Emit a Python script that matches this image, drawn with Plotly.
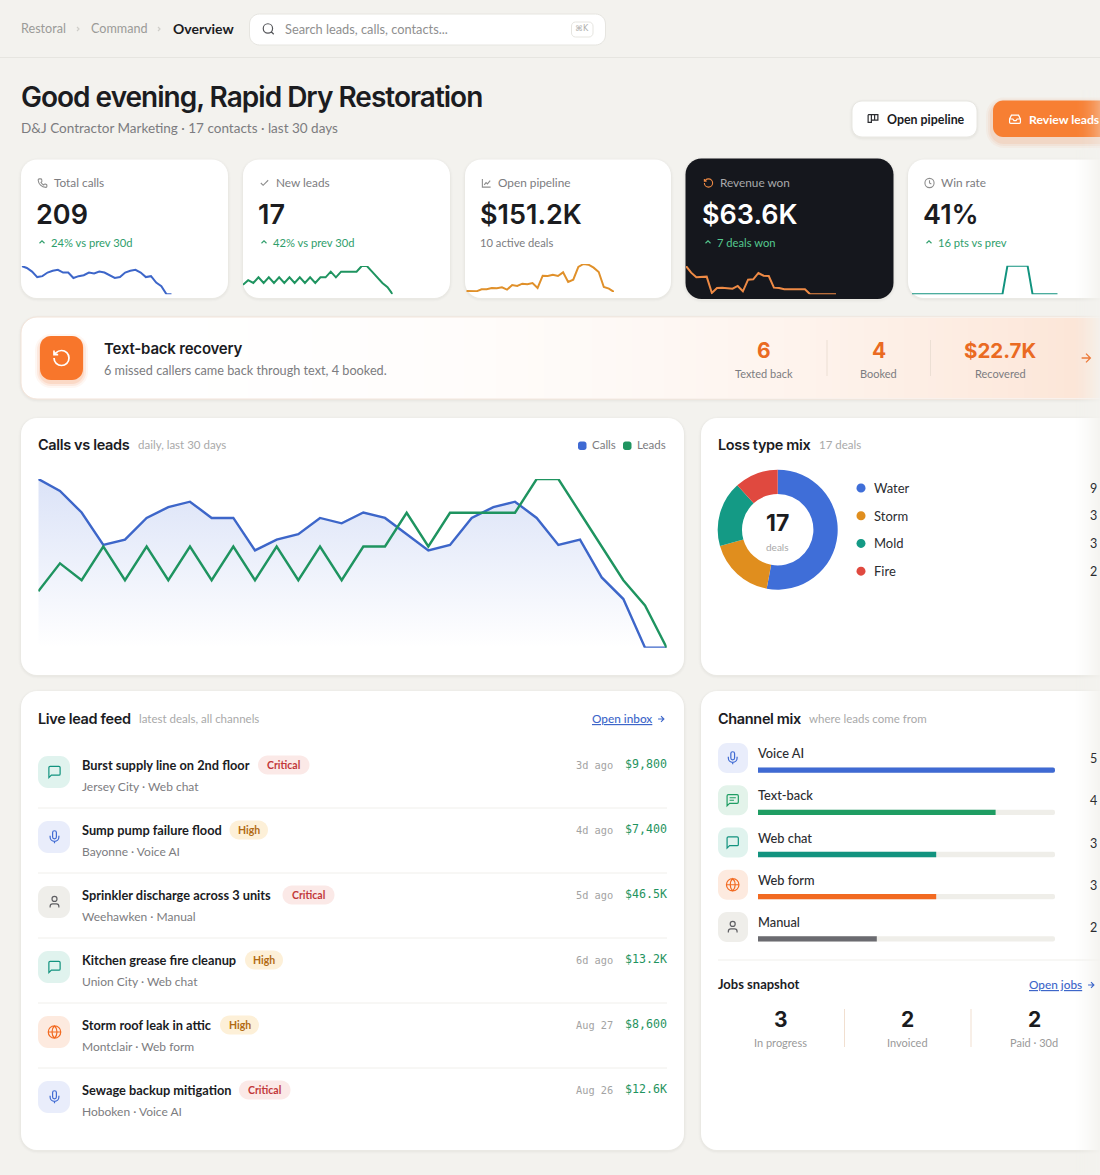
import re
import json
import plotly.graph_objects as go

W, H = 1100, 1175
BG = "#f3f2ee"
SANS = "Lato"
HEAD = "Inter"
MONO = "DejaVu Sans Mono"

# daily series
calls = [31.2, 29, 25, 19, 20, 24, 26, 27, 24, 24, 18, 20, 21, 24, 23, 25, 24, 21, 18, 19, 24, 26, 27, 24, 19, 20, 13, 9, 0, 0]
leads = [1.67, 2.5, 2, 3, 2, 3, 2, 3, 2, 3, 2, 3, 2, 3, 2, 3, 3, 4, 3, 4, 4, 4, 4, 5, 5, 4, 3, 2, 1.25, 0]

# sparklines on the kpi cards
pipeline_spark = [3, 2, 2, 8, 8, 12, 11, 14, 7, 21, 18, 25, 23, 27, 12, 49, 48, 52, 48, 59, 30, 37, 75, 84, 82, 73, 60, 15, 10, 0]
revenue_spark = [85, 65, 51, 51, 53, 4, 19, 20, 19, 17, 25, 9, 44, 45, 64, 56, 55, 20, 19, 15, 15, 15, 15, 15, 0, 0, 0, 0, 0, 0]
win_spark = [0, 0, 0, 0, 0, 0, 0, 0, 0, 0, 0, 0, 0, 0, 0, 0, 0, 0, 0, 1, 1, 1, 1, 1, 0, 0, 0, 0, 0, 0]
days = list(range(30))

loss_types = ["Water", "Storm", "Mold", "Fire"]
loss_counts = [9, 3, 3, 2]
loss_colors = ["#3f6ed8", "#e08e1e", "#149a85", "#e0493f"]

channel_names = ["Voice AI", "Text-back", "Web chat", "Web form", "Manual"]
channel_counts = [5, 4, 3, 3, 2]
channel_colors = ["#3f6ad3", "#1f9d63", "#12937f", "#f26a21", "#6b6b70"]
channel_tints = ["#e9edfb", "#e3f3ea", "#e0f3ee", "#fdeadf", "#efeeea"]
channel_icons = ["mic", "lines", "chat", "globe", "user"]

feed_titles = ["Burst supply line on 2nd floor", "Sump pump failure flood", "Sprinkler discharge across 3 units",
               "Kitchen grease fire cleanup", "Storm roof leak in attic", "Sewage backup mitigation"]
feed_subs = ["Jersey City · Web chat", "Bayonne · Voice AI", "Weehawken · Manual",
             "Union City · Web chat", "Montclair · Web form", "Hoboken · Voice AI"]
feed_tags = ["Critical", "High", "Critical", "High", "High", "Critical"]
feed_when = ["3d ago", "4d ago", "5d ago", "6d ago", "Aug 27", "Aug 26"]
feed_value = ["$9,800", "$7,400", "$46.5K", "$13.2K", "$8,600", "$12.6K"]
feed_icons = ["chat", "mic", "user", "chat", "globe", "mic"]

jobs_labels = ["In progress", "Invoiced", "Paid · 30d"]
jobs_counts = [3, 2, 2]

shapes, notes, traces = [], [], []
layout_axes = {}
# tighter tracking for the grotesk headings, plotly has no option for it
tracking = {"Good evening, Rapid Dry Restoration": -1.0, "Calls vs leads": -0.35, "Loss type mix": -0.35,
            "Live lead feed": -0.35, "Channel mix": -0.35, "Text-back recovery": -0.2}


def circ(cx, cy, r):
    k = r * 0.5523
    return (f"M{cx + r} {cy} C{cx + r} {cy + k} {cx + k} {cy + r} {cx} {cy + r} "
            f"C{cx - k} {cy + r} {cx - r} {cy + k} {cx - r} {cy} "
            f"C{cx - r} {cy - k} {cx - k} {cy - r} {cx} {cy - r} "
            f"C{cx + k} {cy - r} {cx + r} {cy - k} {cx + r} {cy} Z ")


ICONS = {
    "phone": "M5 3 L8.5 3 C9.5 3 10 3.7 10.2 4.6 L10.8 7.5 C11 8.3 10.7 9 10 9.5 L8.6 10.6 C10 13.5 12 15.5 14.5 16.5 L15.7 15 C16.2 14.4 17 14.1 17.7 14.3 L20 15 C20.8 15.2 21.5 16 21.5 17 L21.5 19.5 C21.5 20.7 20.5 21.5 19.5 21.5 C10 21 3 14 2.5 5.5 C2.5 4 3.5 3 5 3 Z",
    "check": "M4 12 L9 17 L20 6",
    "linechart": "M3 3 L3 21 L21 21 M7 16 L11 11 L14 14 L20 7",
    "rotate": "M3 12 C3 17 7 21 12 21 C17 21 21 17 21 12 C21 7 17 3 12 3 C9.5 3 7 4 5.26 5.74 L3 8 M3 3 L3 8 L8 8",
    "clock": circ(12, 12, 10) + "M12 6 L12 12 L16 14",
    "search": circ(11, 11, 8) + "M21 21 L16.65 16.65",
    "kanban": "M3 5 L21 5 L21 15 L15 15 L15 5 M9 5 L9 19 L3 19 L3 5 M9 15 L15 15",
    "inbox": "M22 12 L16 12 L14 15 L10 15 L8 12 L2 12 M5.5 5 L18.5 5 L22 12 L22 18 C22 19 21 20 20 20 L4 20 C3 20 2 19 2 18 L2 12 Z",
    "mic": "M12 2 C10.3 2 9 3.3 9 5 L9 12 C9 13.7 10.3 15 12 15 C13.7 15 15 13.7 15 12 L15 5 C15 3.3 13.7 2 12 2 Z M19 10 L19 12 C19 15.9 15.9 19 12 19 C8.1 19 5 15.9 5 12 L5 10 M12 19 L12 22",
    "chat": "M21 15 C21 16.1 20.1 17 19 17 L7 17 L3 21 L3 5 C3 3.9 3.9 3 5 3 L19 3 C20.1 3 21 3.9 21 5 Z",
    "lines": "M21 15 C21 16.1 20.1 17 19 17 L7 17 L3 21 L3 5 C3 3.9 3.9 3 5 3 L19 3 C20.1 3 21 3.9 21 5 Z M7 8 L17 8 M7 12 L14 12",
    "globe": circ(12, 12, 10) + "M2 12 L22 12 M12 2 C15 5 16 8.5 16 12 C16 15.5 15 19 12 22 C9 19 8 15.5 8 12 C8 8.5 9 5 12 2 Z",
    "user": "M19 21 L19 19 C19 16.8 17.2 15 15 15 L9 15 C6.8 15 5 16.8 5 19 L5 21 " + circ(12, 7, 4),
    "up": "M6 15 L12 9 L18 15",
    "arrow": "M5 12 L19 12 M12 5 L19 12 L12 19",
    "chev": "M9 6 L15 12 L9 18",
}


def rpath(x0, y0, x1, y1, r):
    k = r * 0.45
    return (f"M{x0 + r} {y0} L{x1 - r} {y0} C{x1 - k} {y0} {x1} {y0 + k} {x1} {y0 + r} "
            f"L{x1} {y1 - r} C{x1} {y1 - k} {x1 - k} {y1} {x1 - r} {y1} "
            f"L{x0 + r} {y1} C{x0 + k} {y1} {x0} {y1 - k} {x0} {y1 - r} "
            f"L{x0} {y0 + r} C{x0} {y0 + k} {x0 + k} {y0} {x0 + r} {y0} Z")


def box(x0, y0, x1, y1, r, fill, line=None, lw=1, layer="below"):
    shapes.append(dict(type="path", path=rpath(x0, y0, x1, y1, r), xref="x", yref="y", fillcolor=fill,
                       line=dict(color=line or "rgba(0,0,0,0)", width=lw if line else 0), layer=layer))


def card(x0, y0, x1, y1, r=16, fill="#ffffff", line=None, shadow=True):
    if shadow:
        for s, a in [(3, 0.008), (2, 0.012), (1, 0.02)]:
            box(x0 - s, y0 - s + 1, x1 + s, y1 + s + 1, r + s, f"rgba(40,35,20,{a})")
    box(x0, y0, x1, y1, r, fill, line)


def icon(name, cx, cy, size, color, lw=1.2, layer="below"):
    s = size / 24
    out = []
    for m in re.finditer(r"([MLCZ])([^MLCZ]*)", ICONS[name]):
        nums = [float(v) for v in m.group(2).split()]
        pts = [f"{cx + (nums[i] - 12) * s:.2f} {cy + (nums[i + 1] - 12) * s:.2f}" for i in range(0, len(nums), 2)]
        out.append(m.group(1) + " ".join(pts))
    shapes.append(dict(type="path", path=" ".join(out), xref="x", yref="y", fillcolor="rgba(0,0,0,0)",
                       line=dict(color=color, width=lw), layer=layer))


def hline(x0, x1, y, color, lw=1):
    shapes.append(dict(type="line", x0=x0, x1=x1, y0=y, y1=y, xref="x", yref="y", line=dict(color=color, width=lw), layer="below"))


def vline(x, y0, y1, color, lw=1):
    shapes.append(dict(type="line", x0=x, x1=x, y0=y0, y1=y1, xref="x", yref="y", line=dict(color=color, width=lw), layer="below"))


def txt(x, y, s, size, color, anchor="left", weight=400, font=SANS):
    notes.append(dict(x=x, y=y - 0.7, xref="x", yref="y", text=s, showarrow=False, xanchor=anchor, yanchor="middle", align=anchor,
                      borderpad=0, borderwidth=0, font=dict(family=font, size=size, color=color, weight=weight)))


def axes(x0, x1, y_top, y_bot, xr, yr, **ykw):
    n = len(layout_axes) // 2 + 2
    layout_axes[f"xaxis{n}"] = dict(domain=[x0 / W, x1 / W], range=xr, visible=False, fixedrange=True, anchor=f"y{n}")
    layout_axes[f"yaxis{n}"] = dict(domain=[1 - y_bot / H, 1 - y_top / H], range=yr, visible=False, fixedrange=True, anchor=f"x{n}", **ykw)
    return f"x{n}", f"y{n}"


def spark(values, x0, x1, y_top, y_bot, color, lw=2):
    xa, ya = axes(x0, x1, y_top, y_bot, [0, 29], [0, max(values)])
    traces.append(go.Scatter(x=days, y=values, xaxis=xa, yaxis=ya, mode="lines", cliponaxis=False,
                             line=dict(color=color, width=lw), hoverinfo="skip", showlegend=False))


INK = "#1b1c1f"
GREY = "#7c7c80"
LIGHT = "#a9a9a9"
GREEN = "#2f9e6b"

# top bar
hline(0, W, 57.5, "#e6e5e0")
txt(20.5, 29.5, "Restoral", 12.6, "#9b9b98")
icon("chev", 78, 29, 8, "#cfcec9")
txt(91, 29.5, "Command", 12.6, "#9b9b98")
icon("chev", 159, 29, 8, "#cfcec9")
txt(173, 29.5, "Overview", 14, INK, weight=700)
box(249.5, 14, 605.5, 45, 10, "#ffffff", "#e6e5e0")
icon("search", 268.5, 29, 14, "#55565a")
txt(284.5, 29.5, "Search leads, calls, contacts...", 12.8, "#8f8f8f")
box(571.5, 22, 593, 37, 4, "#ffffff", "#e6e5e0")
txt(582, 29.5, "⌘K", 8, "#b0b0ad", "center", font="DejaVu Sans")

# heading
txt(21, 98, "Good evening, Rapid Dry Restoration", 28, INK, weight=600, font=HEAD)
txt(21, 129, "D&J Contractor Marketing · 17 contacts · last 30 days", 13.5, GREY)

# buttons
card(852, 101, 977, 137, 10, line="#e8e7e2")
icon("kanban", 873, 118.5, 13, "#2b2c30")
txt(887, 119.7, "Open pipeline", 12.4, INK, weight=700)
for s, a in [(7, 0.05), (5, 0.07), (3, 0.1)]:
    box(993 - s, 100.5 - s + 4, 1130 + s, 137 + s + 4, 11 + s, f"rgba(242,120,50,{a})")
box(993, 100.5, 1130, 137, 10, "#f77f33")
icon("inbox", 1015, 119, 13, "#ffffff")
txt(1029, 119.7, "Review leads", 12.2, "#ffffff", weight=700)

# kpi cards
kpi_x = [21, 243, 465, 685.5, 908]
kpi_w = [207, 207, 206, 208, 220]
kpi_icons = ["phone", "check", "linechart", "rotate", "clock"]
kpi_labels = ["Total calls", "New leads", "Open pipeline", "Revenue won", "Win rate"]
kpi_values = ["209", "17", "$151.2K", "$63.6K", "41%"]
kpi_delta = ["24% vs prev 30d", "42% vs prev 30d", "10 active deals", "7 deals won", "16 pts vs prev"]
for i, x0 in enumerate(kpi_x):
    dark = i == 3
    if dark:
        card(x0, 158.5, x0 + kpi_w[i], 299, 16, "#15171d")
    else:
        card(x0, 159.5, x0 + kpi_w[i], 298, 16)
    off = 15 if not dark else 16.5
    icon(kpi_icons[i], x0 + off + 6.5, 183, 11, "#ef8a44" if dark else "#8d8d8d", 1.1)
    txt(x0 + off + 18, 183, kpi_labels[i], 11.8, "#a9a9ab" if dark else GREY)
    txt(x0 + off, 214.7, kpi_values[i], 27, "#ffffff" if dark else INK, weight=600, font=HEAD)
    if i == 2:
        txt(x0 + off, 243, kpi_delta[i], 11.2, GREY)
    else:
        col = "#54c98f" if dark else GREEN
        icon("up", x0 + off + 6, 242, 10, col, 1.1)
        txt(x0 + off + 14.5, 243, kpi_delta[i], 11.2, col)

spark(calls, 21.7, 171.7, 266, 294.3, "#3d66c9")
spark(leads, 243, 392.7, 266, 294.3, "#1f9460")
spark(pipeline_spark, 466.3, 614, 264, 292, "#e0902a")
spark(revenue_spark, 686, 836, 266, 294.3, "#ee8a45")
spark(win_spark, 912, 1057.7, 265.7, 294.3, "#12937f")

# text-back strip
card(21, 317, 1130, 399, 16, line="#f3e3d8")
for x in range(40, 1100, 8):
    t = ((x - 40) / 1060) ** 2.4
    c = f"rgb({255 - 3 * t:.0f},{255 - 27 * t:.0f},{255 - 42 * t:.0f})"
    shapes.append(dict(type="rect", x0=x, x1=x + 8, y0=318, y1=398, xref="x", yref="y", fillcolor=c, line=dict(width=0), layer="below"))
for s, a in [(5, 0.06), (3, 0.1), (1, 0.14)]:
    box(40 - s, 336 - s + 3, 83 + s, 380 + s + 3, 11 + s, f"rgba(242,120,50,{a})")
box(40, 336, 83, 380, 11, "#f8762b")
icon("rotate", 61.5, 358, 20, "#ffffff", 1.7)
txt(104, 348.7, "Text-back recovery", 15, INK, weight=600, font=HEAD)
txt(104, 370.7, "6 missed callers came back through text, 4 booked.", 12.7, GREY)
txt(764, 350.7, "6", 21, "#ea6a22", "center", 700, HEAD)
txt(764, 374, "Texted back", 11, GREY, "center")
vline(827, 340, 376, "#ecdfd4")
txt(878.5, 350.7, "4", 21, "#ea6a22", "center", 700, HEAD)
txt(878.5, 374, "Booked", 11, GREY, "center")
vline(930.5, 340, 376, "#ecdfd4")
txt(1000, 350.7, "$22.7K", 20.5, "#ea6a22", "center", 700, HEAD)
txt(1000, 374, "Recovered", 11, GREY, "center")

# panels
card(21, 418, 684, 675)
card(701, 418, 1130, 675)
card(21, 691, 684, 1150)
card(701, 691, 1130, 1150)

# calls vs leads
txt(38, 445, "Calls vs leads", 14.5, INK, weight=600, font=HEAD)
txt(137.5, 445.5, "daily, last 30 days", 11.5, LIGHT)
box(578, 441.5, 586.5, 450, 2.5, "#3f6ad3")
txt(592, 445.5, "Calls", 11.5, GREY)
box(623, 441.5, 631.5, 450, 2.5, "#1f9460")
txt(637, 445.5, "Leads", 11.5, GREY)

xa, ya = axes(38.3, 666.7, 479, 647.7, [0, 29], [0, max(calls)])
traces.append(go.Scatter(x=days, y=calls, xaxis=xa, yaxis=ya, mode="lines", fill="tozeroy", cliponaxis=False,
                         fillgradient=dict(type="vertical", colorscale=[[0, "rgba(65,105,214,0)"], [1, "rgba(65,105,214,0.19)"]]),
                         line=dict(color="#3d66c9", width=2.4), hoverinfo="skip", showlegend=False))
xa, ya = axes(38.3, 666.7, 479, 647.7, [0, 29], [0, max(leads)])
traces.append(go.Scatter(x=days, y=leads, xaxis=xa, yaxis=ya, mode="lines", cliponaxis=False,
                         line=dict(color="#1f9460", width=2.4), hoverinfo="skip", showlegend=False))

# loss type donut
txt(717.5, 445, "Loss type mix", 14.5, INK, weight=600, font=HEAD)
txt(819, 445.5, "17 deals", 11.5, LIGHT)
traces.append(go.Pie(labels=loss_types, values=loss_counts, hole=0.595, sort=False, direction="clockwise", rotation=0,
                     marker=dict(colors=loss_colors, line=dict(width=0)), textinfo="none", hoverinfo="skip", showlegend=False,
                     domain=dict(x=[717.7 / W, 837.7 / W], y=[1 - 589.7 / H, 1 - 469.7 / H])))
txt(777.7, 523.7, "17", 23, INK, "center", 700, HEAD)
txt(777.7, 547.5, "deals", 10, LIGHT, "center")
for i, name in enumerate(loss_types):
    y = 488 + i * 27.7
    box(856.5, y - 4.4, 865.5, y + 4.6, 4.4, loss_colors[i])
    txt(873.5, y + 0.7, name, 13, "#2b2c30")
    txt(1093.7, y + 0.7, str(loss_counts[i]), 12.5, "#2b2c30", "center")

# live lead feed
txt(38, 719, "Live lead feed", 14.5, INK, weight=600, font=HEAD)
txt(138.5, 719, "latest deals, all channels", 11.5, LIGHT)
txt(591.5, 719, "<u>Open inbox</u>", 11.8, "#3d66c9", weight=500)
icon("arrow", 661, 719, 10, "#3d66c9", 1.1)
tints = dict(chat=("#e0f3ee", "#12937f"), mic=("#e9edfb", "#3f6ad3"), user=("#efeeea", "#5f5f63"), globe=("#fdeadf", "#f26a21"))
pill_left = [258, 229.5, 282.5, 245, 220, 239]
pill_right = [309.5, 268, 334.5, 283, 259, 290.5]
for i, title in enumerate(feed_titles):
    y = 765 + i * 65
    if i:
        hline(38, 667, y - 22, "#f0efeb")
    bg, fg = tints[feed_icons[i]]
    box(38, y - 9, 70, y + 23, 10, bg)
    icon(feed_icons[i], 54.5, y + 7, 15, fg, 1.2)
    txt(81.5, y + 0.7, title, 12.8, INK, weight=700)
    txt(81.5, y + 21.7, feed_subs[i], 12, GREY)
    crit = feed_tags[i] == "Critical"
    box(pill_left[i], y - 9.5, pill_right[i], y + 9.5, 9.5, "#fbe9e7" if crit else "#fdf0d8")
    txt((pill_left[i] + pill_right[i]) / 2, y + 0.7, feed_tags[i], 10.5, "#c2383a" if crit else "#b26a12", "center", 700)
    txt(613, y + 0.7, feed_when[i], 10.3, "#a3a3a3", "right", font=MONO)
    txt(667, y, feed_value[i], 11.6, "#1f9460", "right", 500, MONO)

# channel mix
txt(717.5, 719, "Channel mix", 14.5, INK, weight=600, font=HEAD)
txt(809, 719, "where leads come from", 11.5, LIGHT)
for i, name in enumerate(channel_names):
    y = 758 + i * 42.25
    box(718, y - 15, 748, y + 15, 9, channel_tints[i])
    icon(channel_icons[i], 732.7, y, 15, channel_colors[i] if i < 4 else "#5f5f63", 1.2)
    txt(758, y - 4.3, name, 12.8, "#2b2c30", weight=500)
    txt(1093.7, y + 1.2, str(channel_counts[i]), 12.5, "#2b2c30", "center")
xa, ya = axes(758, 1055, 749, 960, [0, max(channel_counts)], [4.5, -0.5], type="category", categoryorder="array", categoryarray=channel_names)
traces.append(go.Bar(y=channel_names, x=[max(channel_counts)] * 5, orientation="h", xaxis=xa, yaxis=ya, width=0.125,
                     marker=dict(color="#efeee9", cornerradius=3, line=dict(width=0)), hoverinfo="skip", showlegend=False))
traces.append(go.Bar(y=channel_names, x=channel_counts, orientation="h", xaxis=xa, yaxis=ya, width=0.125,
                     marker=dict(color=channel_colors, cornerradius=3, line=dict(width=0)), hoverinfo="skip", showlegend=False))

# jobs snapshot
hline(718, 1100, 960, "#f0efeb")
txt(717.5, 985, "Jobs snapshot", 13, INK, weight=700)
txt(1029, 985, "<u>Open jobs</u>", 11.8, "#3d66c9", weight=500)
for i, lab in enumerate(jobs_labels):
    cx = 780.5 + i * 126.8
    txt(cx, 1019.7, str(jobs_counts[i]), 21, INK, "center", 700, HEAD)
    txt(cx, 1043.5, lab, 11, "#9a9a9a", "center")
vline(844.5, 1009, 1047, "#f1dfd0")
vline(971, 1009, 1047, "#f1dfd0")

# right edge fade, cards melt into the page
for i in range(26):
    f = (i + 1) / 26
    shapes.append(dict(type="rect", x0=1074 + i, x1=1075 + i, y0=150, y1=H, xref="x", yref="y",
                       fillcolor=f"rgba(243,242,238,{f ** 1.3 * 0.85:.3f})", line=dict(width=0), layer="above"))
    shapes.append(dict(type="rect", x0=1074 + i, x1=1075 + i, y0=90, y1=150, xref="x", yref="y",
                       fillcolor=f"rgba(243,242,238,{f ** 2 * 0.35:.3f})", line=dict(width=0), layer="above"))
icon("arrow", 1086, 358, 15, "#ec7a3a", 1.3, layer="above")
icon("arrow", 1091, 985, 10, "#3d66c9", 1.1, layer="above")

fig = go.Figure(traces)
fig.update_layout(
    width=W, height=H, margin=dict(l=0, r=0, t=0, b=0), autosize=False,
    paper_bgcolor=BG, plot_bgcolor="rgba(0,0,0,0)", barmode="overlay", showlegend=False, hovermode=False,
    xaxis=dict(range=[0, W], domain=[0, 1], visible=False, fixedrange=True),
    yaxis=dict(range=[H, 0], domain=[0, 1], visible=False, fixedrange=True),
    shapes=shapes, annotations=notes, **layout_axes,
)
post = ("document.body.style.margin='0';document.body.style.overflow='hidden';"
        "var tr=" + json.dumps(tracking) + ";"
        "document.querySelectorAll('.annotation-text').forEach(function(n){"
        "if(tr[n.textContent]!==undefined){n.style.letterSpacing=tr[n.textContent]+'px';}});")
fig.write_html("out.html", config={"displayModeBar": False}, post_script=post)
